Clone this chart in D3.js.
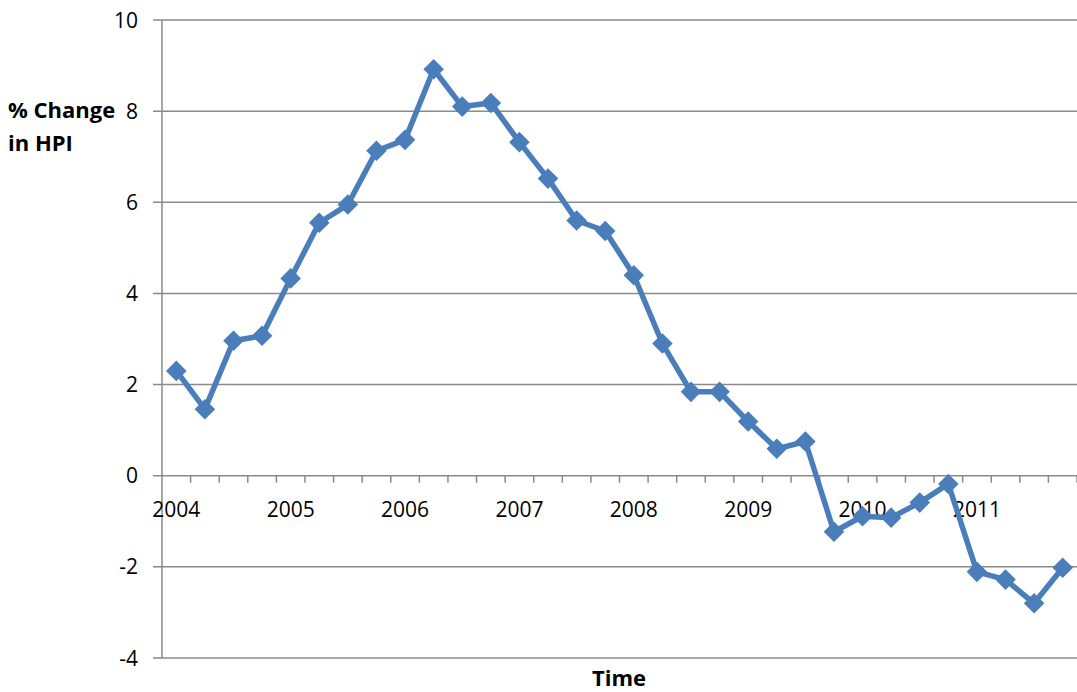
<!DOCTYPE html>
<html><head><meta charset="utf-8">
<script src="https://cdn.jsdelivr.net/npm/d3@7"></script>
<style>body{margin:0;background:#fff}svg{display:block}text{font-family:"Open Sans",sans-serif}</style>
</head><body><svg id="c" width="1077" height="692"></svg>
<script>
const years = ["2004","2005","2006","2007","2008","2009","2010","2011"];
const quarters = ["Q1","Q2","Q3","Q4"];
const categories = years.flatMap(y => quarters.map(q => y + " " + q));
const hpiChange = [2.3,1.46,2.96,3.07, 4.33,5.55,5.95,7.13, 7.37,8.92,8.1,8.18,
  7.32,6.52,5.6,5.37, 4.4,2.9,1.84,1.84, 1.19,0.59,0.75,-1.23,
  -0.89,-0.92,-0.59,-0.18, -2.11,-2.28,-2.8,-2.02];
const yTicks = [-4,-2,0,2,4,6,8,10];

const svg = d3.select("#c");
const L = 162, R = 1077, T = 20, B = 658;
const x = d3.scaleBand().domain(categories).range([L, R]);
const y = d3.scaleLinear().domain([-4, 10]).range([B, T]);
const grid = "#8a8a8a", blue = "#4a7ebb";

// gridlines
svg.append("g").selectAll("line").data(yTicks).join("line")
  .attr("x1", L - 9).attr("x2", R).attr("y1", d => y(d)).attr("y2", d => y(d))
  .attr("stroke", grid).attr("stroke-width", 1.5);
// y axis line
svg.append("line").attr("x1", L).attr("x2", L).attr("y1", T).attr("y2", B)
  .attr("stroke", grid).attr("stroke-width", 1.5);
// y labels
svg.append("g").selectAll("text").data(yTicks).join("text")
  .attr("x", 138).attr("y", d => y(d)).attr("dy", "0.36em").attr("text-anchor", "end")
  .attr("font-size", 21).attr("fill", "#000").text(d => d);

// x axis at zero
const y0 = y(0);
const bounds = categories.map(c => x(c)).concat([R]).slice(1);
svg.append("g").selectAll("line").data(bounds).join("line")
  .attr("x1", d => d).attr("x2", d => d).attr("y1", y0).attr("y2", y0 + 7)
  .attr("stroke", grid).attr("stroke-width", 1.5);
svg.append("g").selectAll("text").data(categories.filter(c => c.endsWith("Q1"))).join("text")
  .attr("x", d => x(d) + x.bandwidth() / 2).attr("y", y0 + 41)
  .attr("text-anchor", "middle").attr("font-size", 21).attr("fill", "#000")
  .text(d => d.slice(0, 4));

// line
const line = d3.line().x((d, i) => x(categories[i]) + x.bandwidth() / 2).y(d => y(d));
svg.append("path").datum(hpiChange).attr("d", line).attr("fill", "none")
  .attr("stroke", blue).attr("stroke-width", 5.5).attr("stroke-linejoin", "round");
svg.append("g").selectAll("path").data(hpiChange).join("path")
  .attr("d", d3.symbol().type(d3.symbolDiamond2).size(270))
  .attr("transform", (d, i) => `translate(${x(categories[i]) + x.bandwidth() / 2},${y(d)})`)
  .attr("fill", blue);

// titles
const yt = svg.append("text").attr("font-size", 22).attr("font-weight", "bold").attr("fill", "#000");
yt.append("tspan").attr("x", 8).attr("y", 118).text("% Change");
yt.append("tspan").attr("x", 8).attr("y", 151).text("in HPI");
svg.append("text").attr("x", 619).attr("y", 686).attr("text-anchor", "middle")
  .attr("font-size", 22).attr("font-weight", "bold").attr("fill", "#000").text("Time");
</script></body></html>
